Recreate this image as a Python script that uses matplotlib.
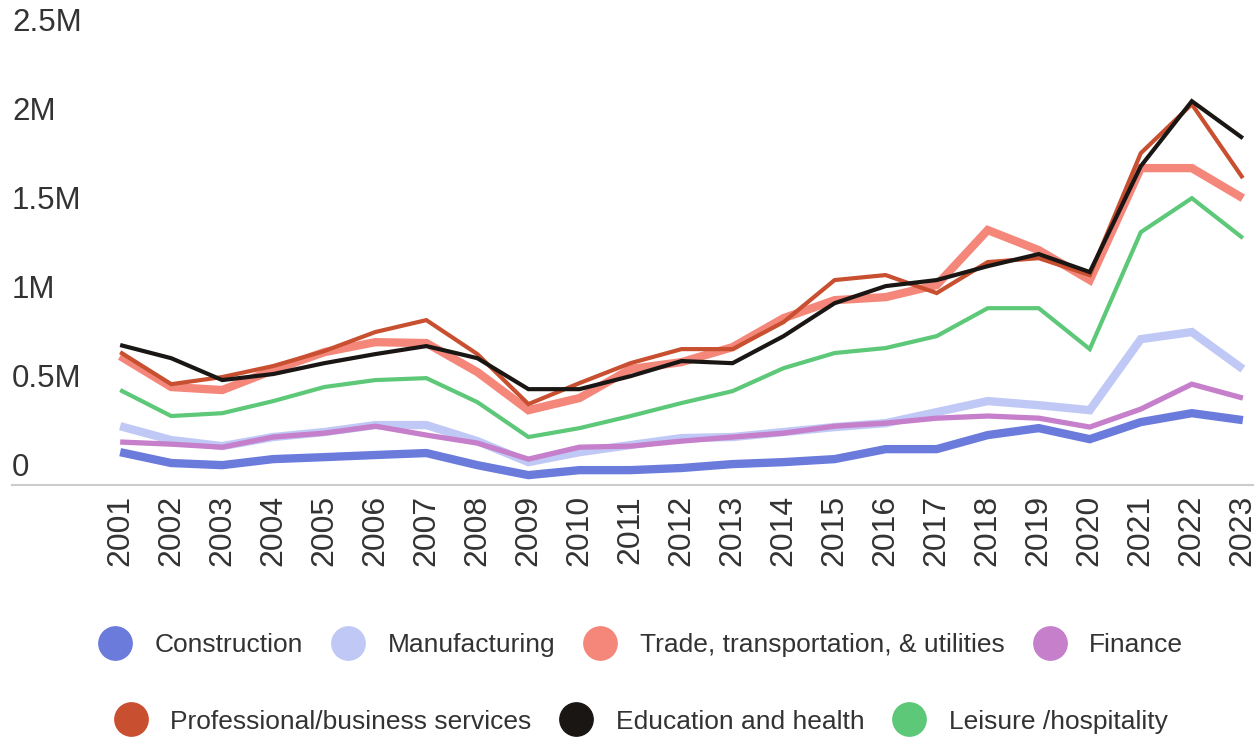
import matplotlib
matplotlib.use('Agg')
import matplotlib.pyplot as plt
from matplotlib.lines import Line2D

years = list(range(2001, 2024))

construction = [0.185, 0.124, 0.112, 0.146, 0.157, 0.169, 0.180, 0.112, 0.056, 0.084, 0.084, 0.096,
                0.118, 0.129, 0.146, 0.202, 0.202, 0.281, 0.320, 0.258, 0.354, 0.404, 0.365]
manufacturing = [0.331, 0.253, 0.219, 0.270, 0.298, 0.337, 0.337, 0.247, 0.129, 0.185, 0.225, 0.264,
                 0.270, 0.298, 0.326, 0.348, 0.410, 0.472, 0.449, 0.421, 0.820, 0.860, 0.652]
trade = [0.725, 0.551, 0.534, 0.646, 0.747, 0.803, 0.798, 0.635, 0.421, 0.489, 0.652, 0.691,
         0.775, 0.938, 1.039, 1.056, 1.124, 1.433, 1.320, 1.152, 1.781, 1.781, 1.612]
finance = [0.242, 0.230, 0.213, 0.270, 0.292, 0.331, 0.281, 0.236, 0.146, 0.213, 0.219, 0.247,
           0.270, 0.292, 0.331, 0.348, 0.376, 0.388, 0.376, 0.326, 0.427, 0.567, 0.489]
professional = [0.747, 0.567, 0.607, 0.669, 0.753, 0.860, 0.927, 0.736, 0.455, 0.573, 0.685, 0.764,
                0.764, 0.916, 1.152, 1.180, 1.079, 1.253, 1.275, 1.180, 1.865, 2.140, 1.725]
education = [0.787, 0.713, 0.590, 0.624, 0.685, 0.736, 0.781, 0.713, 0.539, 0.539, 0.612, 0.697,
             0.685, 0.837, 1.022, 1.118, 1.152, 1.230, 1.298, 1.197, 1.792, 2.157, 1.949]
leisure = [0.534, 0.388, 0.404, 0.472, 0.551, 0.590, 0.601, 0.466, 0.270, 0.320, 0.388, 0.461,
           0.528, 0.657, 0.742, 0.770, 0.837, 0.994, 0.994, 0.764, 1.421, 1.612, 1.388]

y_ticks = [0, 0.5, 1, 1.5, 2, 2.5]
y_tick_labels = ['0', '0.5M', '1M', '1.5M', '2M', '2.5M']

# name, values, color, linewidth (drawing order)
series = [
    ('Manufacturing', manufacturing, '#c0c8f5', 6.0),
    ('Trade, transportation, & utilities', trade, '#f4867a', 6.0),
    ('Construction', construction, '#6a7bdb', 6.0),
    ('Finance', finance, '#c57fcb', 3.8),
    ('Professional/business services', professional, '#c84f30', 3.0),
    ('Leisure /hospitality', leisure, '#5cc878', 3.0),
    ('Education and health', education, '#1a1614', 3.0),
]
colors = {s[0]: s[2] for s in series}

txt = '#333333'
plt.rcParams['font.family'] = ['Liberation Sans', 'DejaVu Sans']

fig = plt.figure(figsize=(12.6, 7.44), dpi=100)
ax = fig.add_axes([0.0095, 0.348, 0.985, 0.610])

for name, vals, col, lw in series:
    ax.plot(years, vals, color=col, lw=lw, solid_joinstyle='miter', solid_capstyle='butt')

ax.set_xlim(1998.88, 2023.2)
ax.set_ylim(0, 2.55)

for sp in ['top', 'right', 'left']:
    ax.spines[sp].set_visible(False)
ax.spines['bottom'].set_color('#cccccc')
ax.spines['bottom'].set_linewidth(1.5)

ax.set_yticks([])
for v, lab in zip(y_ticks, y_tick_labels):
    ax.annotate(lab, xy=(0, v), xycoords=('axes fraction', 'data'),
                xytext=(0, 12), textcoords='offset points',
                ha='left', va='center', fontsize=22.5, color=txt)

ax.set_xticks(years)
ax.set_xticklabels([str(y) for y in years], rotation=90, fontsize=23, color=txt)
ax.tick_params(axis='x', length=0, pad=7)

legend_font = {'family': ['Liberation Sans'], 'size': 19}

def make_legend(names, ypos):
    handles = [Line2D([], [], marker='o', linestyle='', markersize=24,
                      markerfacecolor=colors[n], markeredgecolor=colors[n]) for n in names]
    leg = fig.legend(handles, names, loc='center', bbox_to_anchor=(0.508, ypos), ncol=len(names),
                     frameon=False, prop=legend_font, handlelength=1.4, handletextpad=0.8,
                     columnspacing=1.0)
    for t in leg.get_texts():
        t.set_color(txt)
    return leg

make_legend(['Construction', 'Manufacturing', 'Trade, transportation, & utilities', 'Finance'], 0.133)
make_legend(['Professional/business services', 'Education and health', 'Leisure /hospitality'], 0.030)

plt.savefig('out.png', dpi=100)
